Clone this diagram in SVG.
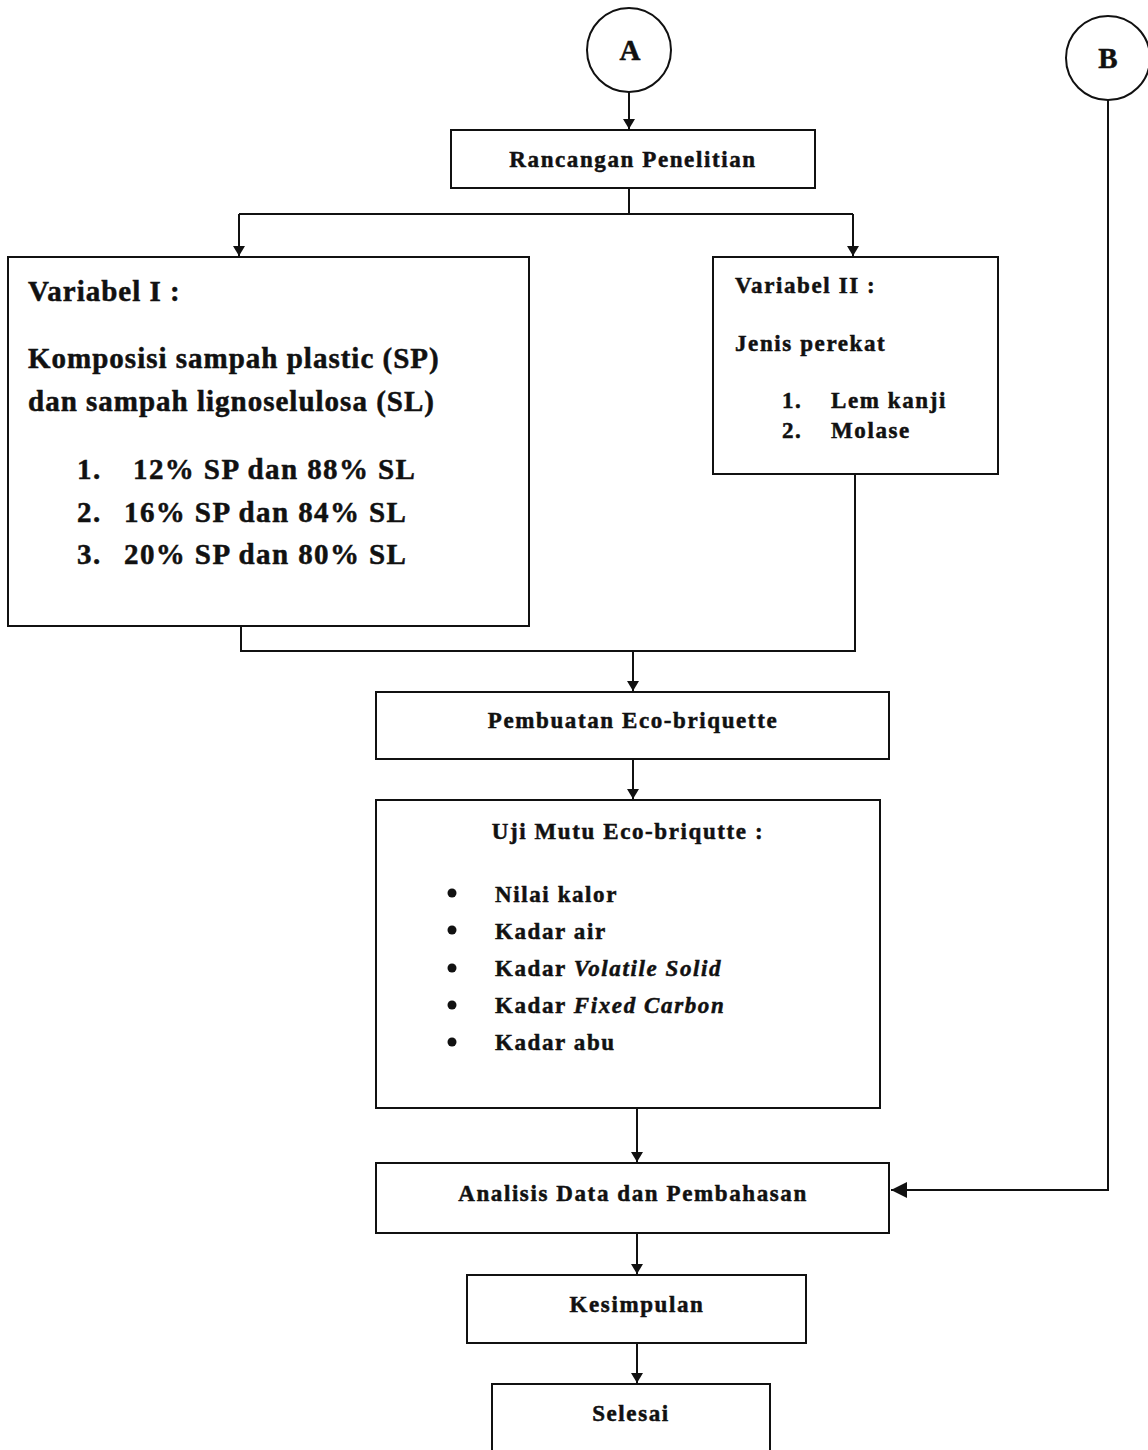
<svg xmlns="http://www.w3.org/2000/svg" width="1148" height="1450" viewBox="0 0 1148 1450">
<style>
.box{fill:#fff;stroke:#111;stroke-width:2}
.ln{fill:none;stroke:#111;stroke-width:2}
text{font-family:"Liberation Serif","Times New Roman",serif;font-weight:bold;fill:#111;stroke:#111;stroke-width:0.5}
.t22{font-size:23px;letter-spacing:1.6px}
.t28{font-size:29px;letter-spacing:1px}
.t28b{font-size:29px;letter-spacing:1.4px}
</style>
<defs>
<marker id="ah" markerWidth="12" markerHeight="12" refX="10" refY="6" orient="auto" markerUnits="userSpaceOnUse">
<path d="M0,0 L10,6 L0,12 Z" fill="#111"/>
</marker>
<marker id="ahb" markerWidth="18" markerHeight="16" refX="16" refY="8" orient="auto" markerUnits="userSpaceOnUse">
<path d="M0,0 L16,8 L0,16 Z" fill="#111"/>
</marker>
</defs>
<rect width="1148" height="1450" fill="#fff"/>
<g id="connectors">
<line class="ln" x1="629" y1="92" x2="629" y2="129" marker-end="url(#ah)"/>
<polyline class="ln" points="629,188 629,214"/>
<polyline class="ln" points="239,214 853,214"/>
<line class="ln" x1="239" y1="214" x2="239" y2="256" marker-end="url(#ah)"/>
<line class="ln" x1="853" y1="214" x2="853" y2="256" marker-end="url(#ah)"/>
<polyline class="ln" points="241,626 241,651 855,651 855,474"/>
<line class="ln" x1="633" y1="651" x2="633" y2="691" marker-end="url(#ah)"/>
<line class="ln" x1="633" y1="759" x2="633" y2="799" marker-end="url(#ah)"/>
<line class="ln" x1="637" y1="1108" x2="637" y2="1162" marker-end="url(#ah)"/>
<line class="ln" x1="637" y1="1233" x2="637" y2="1274" marker-end="url(#ah)"/>
<line class="ln" x1="637" y1="1343" x2="637" y2="1383" marker-end="url(#ah)"/>
<polyline class="ln" points="1108,100 1108,1190 891,1190" marker-end="url(#ahb)"/>
</g>
<g id="nodeA">
<circle class="box" cx="629" cy="50" r="42"/>
<text class="t28" x="630" y="60" text-anchor="middle" style="letter-spacing:0">A</text>
</g>
<g id="nodeB">
<circle class="box" cx="1108" cy="58" r="42"/>
<text class="t28" x="1108" y="68" text-anchor="middle" style="letter-spacing:0">B</text>
</g>
<g id="rancangan">
<rect class="box" x="451" y="130" width="364" height="58"/>
<text class="t22" x="633" y="167" text-anchor="middle">Rancangan Penelitian</text>
</g>
<g id="variabel1">
<rect class="box" x="8" y="257" width="521" height="369"/>
<text class="t28" x="28" y="301">Variabel I :</text>
<text class="t28" x="28" y="368">Komposisi sampah plastic (SP)</text>
<text class="t28" x="28" y="411">dan sampah lignoselulosa (SL)</text>
<text class="t28b" x="77" y="479">1.</text>
<text class="t28b" x="133" y="479">12% SP dan 88% SL</text>
<text class="t28b" x="77" y="522">2.</text>
<text class="t28b" x="124" y="522">16% SP dan 84% SL</text>
<text class="t28b" x="77" y="564">3.</text>
<text class="t28b" x="124" y="564">20% SP dan 80% SL</text>
</g>
<g id="variabel2">
<rect class="box" x="713" y="257" width="285" height="217"/>
<text class="t22" x="735" y="293">Variabel II :</text>
<text class="t22" x="735" y="351">Jenis perekat</text>
<text class="t22" x="782" y="408">1.</text>
<text class="t22" x="831" y="408">Lem kanji</text>
<text class="t22" x="782" y="438">2.</text>
<text class="t22" x="831" y="438">Molase</text>
</g>
<g id="pembuatan">
<rect class="box" x="376" y="692" width="513" height="67"/>
<text class="t22" x="633" y="728" text-anchor="middle">Pembuatan Eco-briquette</text>
</g>
<g id="ujimutu">
<rect class="box" x="376" y="800" width="504" height="308"/>
<text class="t22" x="628" y="839" text-anchor="middle">Uji Mutu Eco-briqutte :</text>
<circle cx="452" cy="893" r="4.5" fill="#111"/>
<circle cx="452" cy="930" r="4.5" fill="#111"/>
<circle cx="452" cy="968" r="4.5" fill="#111"/>
<circle cx="452" cy="1005" r="4.5" fill="#111"/>
<circle cx="452" cy="1042" r="4.5" fill="#111"/>
<text class="t22" x="495" y="902">Nilai kalor</text>
<text class="t22" x="495" y="939">Kadar air</text>
<text class="t22" x="495" y="976">Kadar <tspan font-style="italic">Volatile Solid</tspan></text>
<text class="t22" x="495" y="1013">Kadar <tspan font-style="italic">Fixed Carbon</tspan></text>
<text class="t22" x="495" y="1050">Kadar abu</text>
</g>
<g id="analisis">
<rect class="box" x="376" y="1163" width="513" height="70"/>
<text class="t22" x="633" y="1201" text-anchor="middle">Analisis Data dan Pembahasan</text>
</g>
<g id="kesimpulan">
<rect class="box" x="467" y="1275" width="339" height="68"/>
<text class="t22" x="637" y="1312" text-anchor="middle">Kesimpulan</text>
</g>
<g id="selesai">
<rect class="box" x="492" y="1384" width="278" height="80"/>
<text class="t22" x="631" y="1421" text-anchor="middle">Selesai</text>
</g>
</svg>
